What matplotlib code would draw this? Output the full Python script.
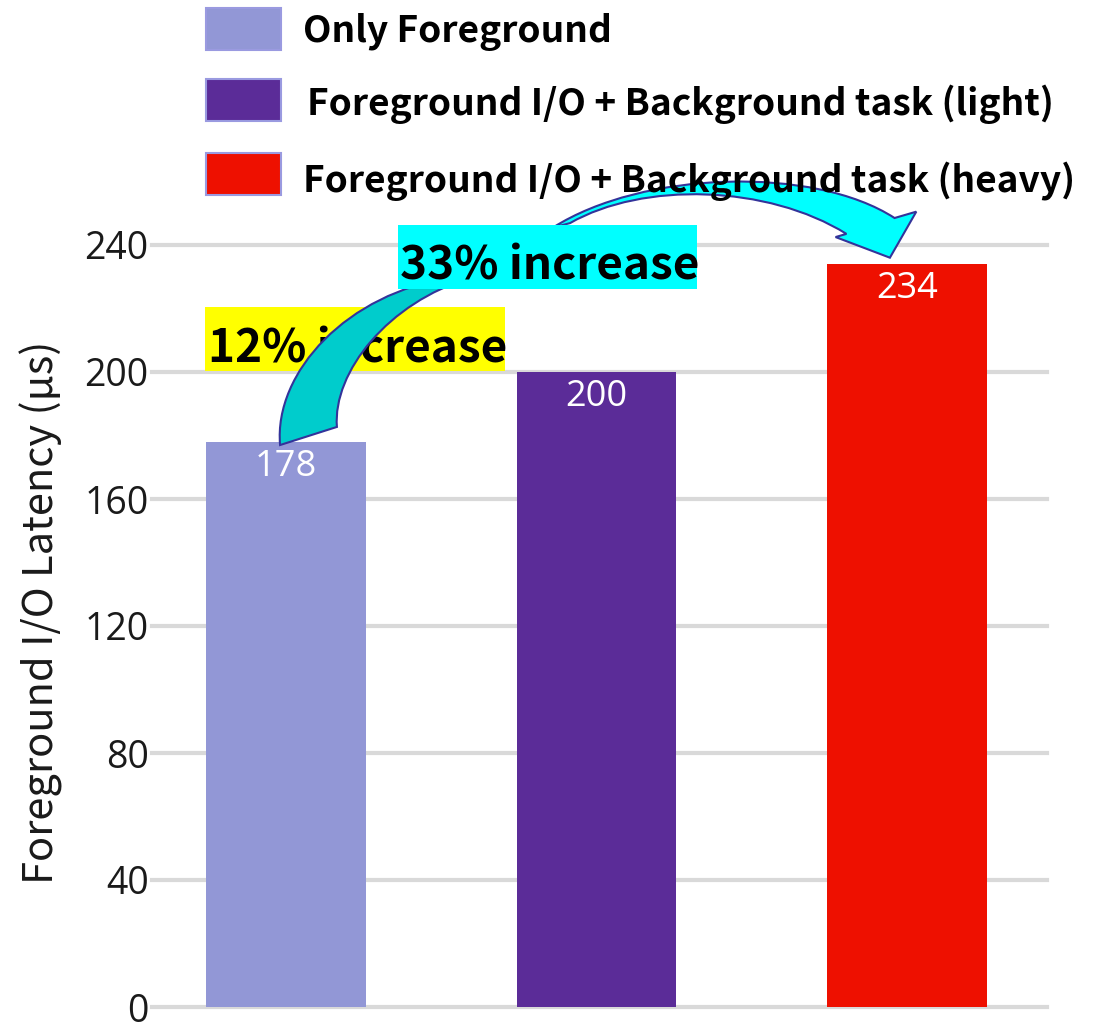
import matplotlib
matplotlib.use("Agg")
import matplotlib.pyplot as plt
from matplotlib.patches import Rectangle, PathPatch
from matplotlib.path import Path

plt.rcParams['font.family'] = ['Noto Sans CJK KR', 'DejaVu Sans']
NUM_FONT = ['Open Sans', 'DejaVu Sans']

# ---- data ----
categories = ["Only Foreground",
              "Foreground I/O + Background task (light)",
              "Foreground I/O + Background task (heavy)"]
latency_us = [178, 200, 234]
bar_colors = ["#9297d6", "#5b2c98", "#ee1000"]
y_ticks = [0, 40, 80, 120, 160, 200, 240]
increase_labels = ["12% increase", "33% increase"]

fig = plt.figure(figsize=(11, 10.28), dpi=100)
W, H = 1100, 1028
ax = fig.add_axes([152 / W, (H - 1007) / H, (1047 - 152) / W, (1007 - 245) / H])

x = list(range(len(latency_us)))
ax.bar(x, latency_us, width=0.515, color=bar_colors, zorder=2)

ax.set_xlim(-0.4316, 2.451)
ax.set_ylim(0, 240)
ax.set_yticks(y_ticks)
ax.set_xticks([])
for s in ax.spines.values():
    s.set_visible(False)
ax.tick_params(axis='y', length=0, pad=2.5, labelsize=27, labelcolor='#1a1a1a')
for lbl in ax.get_yticklabels():
    lbl.set_family(NUM_FONT)
ax.yaxis.grid(True, color='#d9d9d9', lw=3)
ax.set_axisbelow(True)
for gl in ax.get_ygridlines():
    gl.set_clip_on(False)

ax.set_ylabel("Foreground I/O Latency (μs)", fontsize=30, color='#1a1a1a',
              va='center')
ax.yaxis.set_label_coords(-0.1236, 0.518)

# value labels inside the bars
for xi, v in zip(x, latency_us):
    ax.annotate(f"{v}", (xi, v), xytext=(0, -5), textcoords='offset points',
                ha='center', va='top', color='white', fontsize=26, family=NUM_FONT)

# legend drawn as swatches + labels above the plot
legend_rows = [(8, 32, 303), (79, 104, 307), (153, 181, 303)]
for (top, cy, tx), label, col in zip(legend_rows, categories, bar_colors):
    fig.add_artist(Rectangle((206 / W, 1 - (top + 42) / H), 75 / W, 42 / H,
                             transform=fig.transFigure, facecolor=col,
                             edgecolor='#9a9ae0', lw=1.5, zorder=5))
    fig.text(tx / W, 1 - cy / H, label, fontsize=26.7, fontweight='bold',
             ha='left', va='center', color='black', zorder=6)

edge_col = '#33339a'

# curved band rising from the first bar into the "33%" box
band_verts = [(-0.019, 177.0),
              (-0.040, 200.0), (0.200, 225.0), (0.530, 229.6),
              (0.593, 229.6),
              (0.330, 222.0), (0.150, 200.0), (0.164, 182.7),
              (-0.019, 177.0)]
band_codes = [Path.MOVETO,
              Path.CURVE4, Path.CURVE4, Path.CURVE4,
              Path.LINETO,
              Path.CURVE4, Path.CURVE4, Path.CURVE4,
              Path.CLOSEPOLY]
ax.add_patch(PathPatch(Path(band_verts, band_codes), facecolor='#00cccc',
                       edgecolor=edge_col, lw=1.5, zorder=6, clip_on=False))

# curved arrow from the "33%" box over to the third bar
arrow_verts = [(0.860, 245.5),
               (1.150, 263.5), (1.700, 265.0), (1.960, 248.5),
               (2.030, 250.5),
               (1.945, 236.0),
               (1.770, 242.5),
               (1.805, 243.5),
               (1.550, 259.0), (1.150, 260.0), (0.915, 246.9),
               (0.860, 245.5)]
arrow_codes = [Path.MOVETO,
               Path.CURVE4, Path.CURVE4, Path.CURVE4,
               Path.LINETO, Path.LINETO, Path.LINETO, Path.LINETO,
               Path.CURVE4, Path.CURVE4, Path.CURVE4,
               Path.CLOSEPOLY]
ax.add_patch(PathPatch(Path(arrow_verts, arrow_codes), facecolor='#00ffff',
                       edgecolor=edge_col, lw=1.5, zorder=4, clip_on=False))

# percentage call-outs: coloured box + bold text
callouts = [
    # (box x0, box x1, box y0, box y1, text x, baseline y, colour, z)
    (-0.261, 0.705, 200.3, 220.5, -0.252, 203.1, '#ffff00', 5),
    (0.361, 1.324, 226.1, 246.3, 0.367, 229.0, '#00ffff', 7),
]
for (bx0, bx1, by0, by1, tx, ty, col, z), label in zip(callouts, increase_labels):
    ax.add_patch(Rectangle((bx0, by0), bx1 - bx0, by1 - by0, facecolor=col,
                           edgecolor='none', zorder=z, clip_on=False))
    ax.text(tx, ty, label, fontsize=33, fontweight='bold', ha='left',
            va='baseline', color='black', zorder=z, clip_on=False)

fig.savefig("out.png", dpi=100, facecolor='white')
